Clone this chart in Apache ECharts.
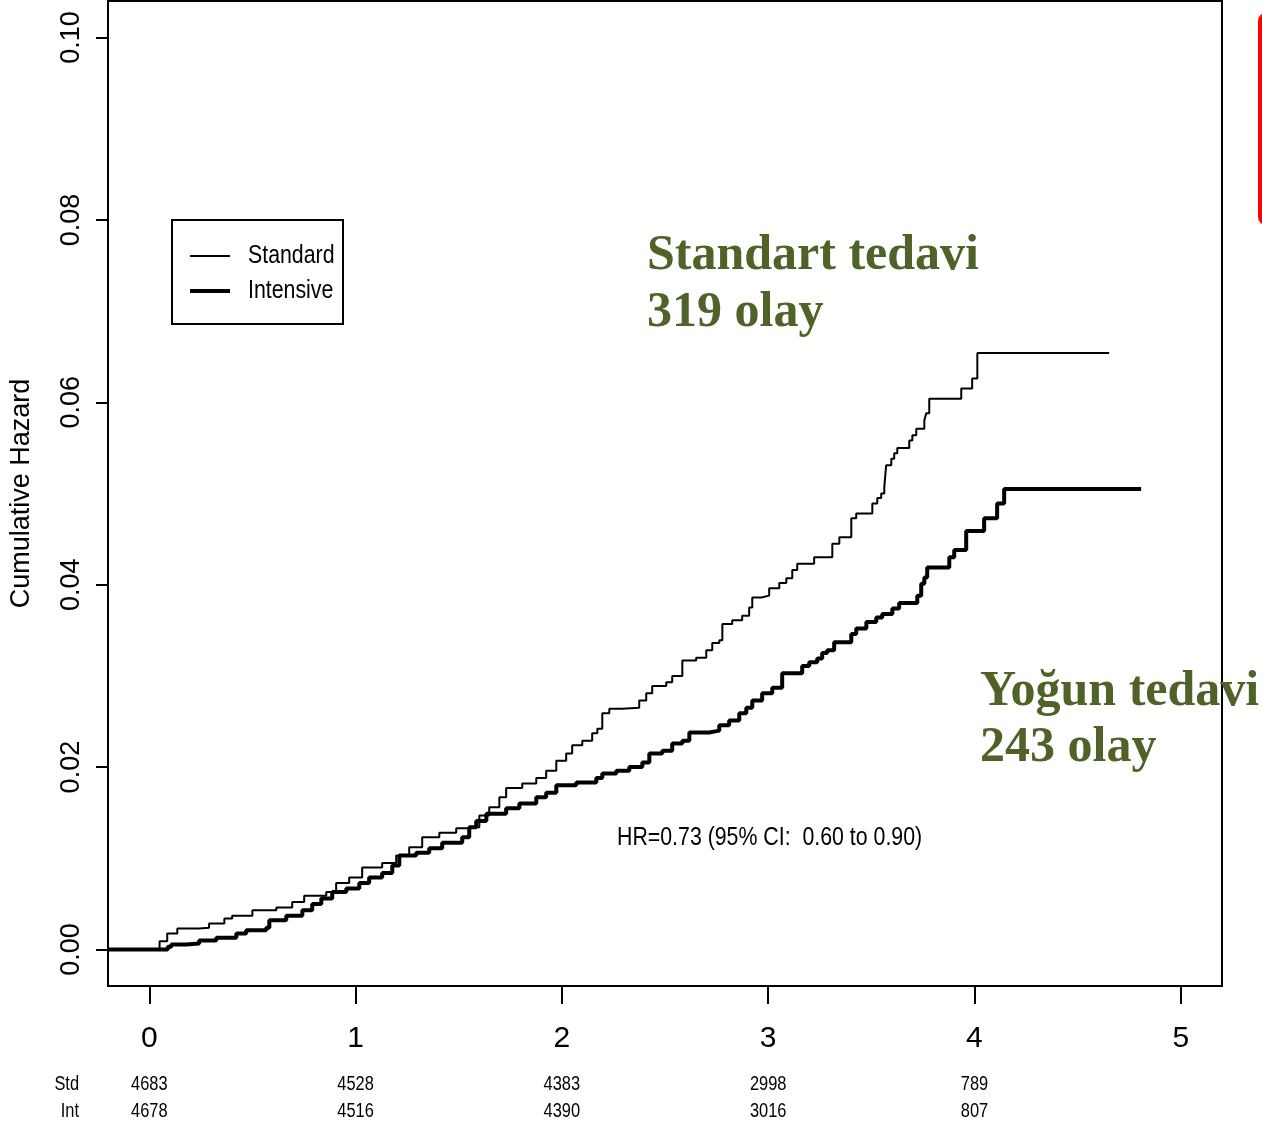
<!DOCTYPE html>
<html><head><meta charset="utf-8">
<script src="https://cdn.jsdelivr.net/npm/echarts@6/dist/echarts.min.js"></script>
<style>html,body{margin:0;padding:0;background:#fff}#c{width:1262px;height:1122px}</style>
</head><body><div id="c"></div>
<script>
const stdTime = [-0.2, 0.05, 0.087, 0.136, 0.242, 0.29, 0.364, 0.402, 0.5, 0.616,
  0.693, 0.751, 0.858, 0.906, 0.969, 1.032, 1.129, 1.197, 1.26, 1.323,
  1.406, 1.488, 1.537, 1.6, 1.648, 1.697, 1.73, 1.808, 1.876, 1.924,
  1.973, 2.021, 2.05, 2.099, 2.147, 2.172, 2.196, 2.23, 2.293, 2.375,
  2.409, 2.438, 2.506, 2.535, 2.584, 2.651, 2.7, 2.729, 2.763, 2.778,
  2.826, 2.874, 2.908, 2.923, 2.967, 3.005, 3.054, 3.088, 3.117, 3.141,
  3.223, 3.311, 3.345, 3.403, 3.427, 3.505, 3.529, 3.548, 3.563, 3.572,
  3.597, 3.611, 3.626, 3.684, 3.699, 3.718, 3.757, 3.766, 3.781, 3.936,
  3.989, 4.014, 4.653];
const stdHaz = [0, 0.0009, 0.00175, 0.0023, 0.0024, 0.00285, 0.0034, 0.0037, 0.0043, 0.0046,
  0.0052, 0.0059, 0.0063, 0.0073, 0.0079, 0.0090, 0.0095, 0.0103, 0.0112, 0.0123,
  0.0128, 0.0133, 0.0134, 0.0147, 0.0156, 0.0167, 0.0177, 0.0182, 0.0188, 0.0196,
  0.0207, 0.0215, 0.0224, 0.0229, 0.0237, 0.0242, 0.0259, 0.0264, 0.0265, 0.0273,
  0.0281, 0.0289, 0.0293, 0.0300, 0.0317, 0.0320, 0.0328, 0.0336, 0.0339, 0.0357,
  0.0361, 0.0366, 0.0375, 0.0386, 0.0388, 0.0396, 0.0402, 0.0407, 0.0416, 0.0423,
  0.0430, 0.0445, 0.0452, 0.0473, 0.0478, 0.0489, 0.0495, 0.0500, 0.0507, 0.0531,
  0.0538, 0.0544, 0.0550, 0.0558, 0.0564, 0.0571, 0.0580, 0.0588, 0.0604, 0.0615,
  0.0626, 0.0654, 0.0654];
const intTime = [-0.2, 0.09, 0.107, 0.179, 0.242, 0.325, 0.422, 0.47, 0.567, 0.582,
  0.664, 0.742, 0.79, 0.834, 0.887, 0.955, 1.018, 1.066, 1.129, 1.178,
  1.212, 1.294, 1.357, 1.42, 1.517, 1.551, 1.585, 1.634, 1.73, 1.794,
  1.876, 1.924, 1.973, 2.07, 2.167, 2.196, 2.264, 2.327, 2.39, 2.424,
  2.487, 2.535, 2.584, 2.618, 2.714, 2.763, 2.811, 2.86, 2.894, 2.923,
  2.971, 3.02, 3.068, 3.165, 3.199, 3.238, 3.262, 3.286, 3.32, 3.403,
  3.427, 3.476, 3.524, 3.553, 3.602, 3.635, 3.723, 3.742, 3.757, 3.771,
  3.878, 3.902, 3.96, 4.047, 4.11, 4.144, 4.808];
const intHaz = [0, 0.0003, 0.00055, 0.00066, 0.00099, 0.0013, 0.00175, 0.0021, 0.0024, 0.0032,
  0.0037, 0.0043, 0.0050, 0.0056, 0.0063, 0.0067, 0.0073, 0.0079, 0.0084, 0.0092,
  0.0103, 0.0106, 0.0111, 0.0117, 0.0123, 0.0134, 0.0141, 0.0149, 0.0155, 0.0160,
  0.0167, 0.0172, 0.0180, 0.0183, 0.0188, 0.0193, 0.0196, 0.0200, 0.0205, 0.0215,
  0.0218, 0.0226, 0.0229, 0.0238, 0.0240, 0.0246, 0.0251, 0.0259, 0.0265, 0.0273,
  0.0281, 0.0287, 0.0303, 0.0311, 0.0315, 0.0319, 0.0325, 0.0328, 0.0337, 0.0346,
  0.0352, 0.0359, 0.0364, 0.0368, 0.0374, 0.0380, 0.0388, 0.0401, 0.0408, 0.0419,
  0.0430, 0.0438, 0.0459, 0.0473, 0.0489, 0.0505, 0.0505];
const xTicks = [0, 1, 2, 3, 4, 5];
const yTicks = [0, 0.02, 0.04, 0.06, 0.08, 0.10];
const riskTimes = [0, 1, 2, 3, 4];
const riskStd = [4683, 4528, 4383, 2998, 789];
const riskInt = [4678, 4516, 4390, 3016, 807];
const riskRowNames = ['Std', 'Int'];
const seriesNames = ['Standard', 'Intensive'];
const hrText = 'HR=0.73 (95% CI:  0.60 to 0.90)';
const noteStd = ['Standart tedavi', '319 olay'];
const noteInt = ['Yoğun tedavi', '243 olay'];

const zip = (a, b) => a.map((v, i) => [v, b[i]]);
const SANS = "'Liberation Sans',Arial,sans-serif";
const SERIF = "'Liberation Serif','Times New Roman',serif";
const GREEN = '#4F6228';
const NX = 0.82; // horizontal squeeze to imitate a narrow typeface

const chart = echarts.init(document.getElementById('c'), null, {renderer: 'canvas'});

chart.setOption({
  animation: false,
  backgroundColor: '#fff',
  grid: {left: 108, top: 1, right: 40, bottom: 136, show: true, borderColor: '#000', borderWidth: 2, backgroundColor: 'transparent'},
  xAxis: {
    type: 'value', min: -0.2, max: 5.2, position: 'bottom',
    axisLine: {show: true, onZero: false, lineStyle: {color: '#000', width: 2}},
    axisTick: {show: true, customValues: xTicks, length: 18, lineStyle: {color: '#000', width: 2}},
    axisLabel: {customValues: xTicks, margin: 38, fontFamily: SANS, fontSize: 30, color: '#000'},
    splitLine: {show: false}
  },
  yAxis: {
    type: 'value', min: -0.004, max: 0.104,
    name: 'Cumulative Hazard', nameLocation: 'middle', nameRotate: 90, nameGap: 73,
    nameTextStyle: {fontFamily: SANS, fontSize: 27, color: '#000'},
    axisLine: {show: true, onZero: false, lineStyle: {color: '#000', width: 2}},
    axisTick: {show: true, customValues: yTicks, length: 12, lineStyle: {color: '#000', width: 2}},
    axisLabel: {customValues: yTicks, rotate: 90, margin: 23, fontFamily: SANS, fontSize: 27, color: '#000',
      formatter: v => v.toFixed(2)},
    splitLine: {show: false}
  },
  series: [
    {name: seriesNames[0], type: 'line', step: 'end', symbol: 'none', data: zip(stdTime, stdHaz),
      lineStyle: {color: '#000', width: 2}, z: 3},
    {name: seriesNames[1], type: 'line', step: 'end', symbol: 'none', data: zip(intTime, intHaz),
      lineStyle: {color: '#000', width: 4}, z: 4}
  ]
});

const px = t => chart.convertToPixel({xAxisIndex: 0}, t);
const narrowText = (x, y, text, size, align) => ({
  type: 'text', x: x, y: y, scaleX: NX,
  style: {text: text, font: size + 'px ' + SANS, fill: '#000', align: align || 'left', verticalAlign: 'middle'}
});
const greenText = (x, y, text) => ({
  type: 'text', x: x, y: y,
  style: {text: text, font: 'bold 50px ' + SERIF, fill: GREEN, verticalAlign: 'middle'}
});

const graphics = [
  {type: 'group', left: 171, top: 219, children: [
    {type: 'rect', shape: {x: 0, y: 0, width: 171, height: 104}, style: {fill: '#fff', stroke: '#000', lineWidth: 2}},
    {type: 'line', shape: {x1: 18, y1: 36, x2: 58, y2: 36}, style: {stroke: '#000', lineWidth: 2}},
    {type: 'line', shape: {x1: 18, y1: 71, x2: 58, y2: 71}, style: {stroke: '#000', lineWidth: 4}},
    narrowText(76, 36, seriesNames[0], 26),
    narrowText(76, 71, seriesNames[1], 26)
  ]},
  narrowText(617, 838, hrText, 26),
  greenText(647, 256, noteStd[0]),
  greenText(647, 313, noteStd[1]),
  greenText(980, 692, noteInt[0]),
  greenText(980, 748, noteInt[1]),
  {type: 'rect', shape: {x: 1260, y: 15, width: 60, height: 208, r: 6}, style: {fill: 'none', stroke: '#ff0000', lineWidth: 4}},
  narrowText(79, 1084, riskRowNames[0], 20, 'right'),
  narrowText(79, 1111, riskRowNames[1], 20, 'right')
];
riskTimes.forEach((t, i) => {
  graphics.push(narrowText(px(t), 1084, String(riskStd[i]), 20, 'center'));
  graphics.push(narrowText(px(t), 1111, String(riskInt[i]), 20, 'center'));
});
chart.setOption({graphic: graphics});
</script></body></html>
